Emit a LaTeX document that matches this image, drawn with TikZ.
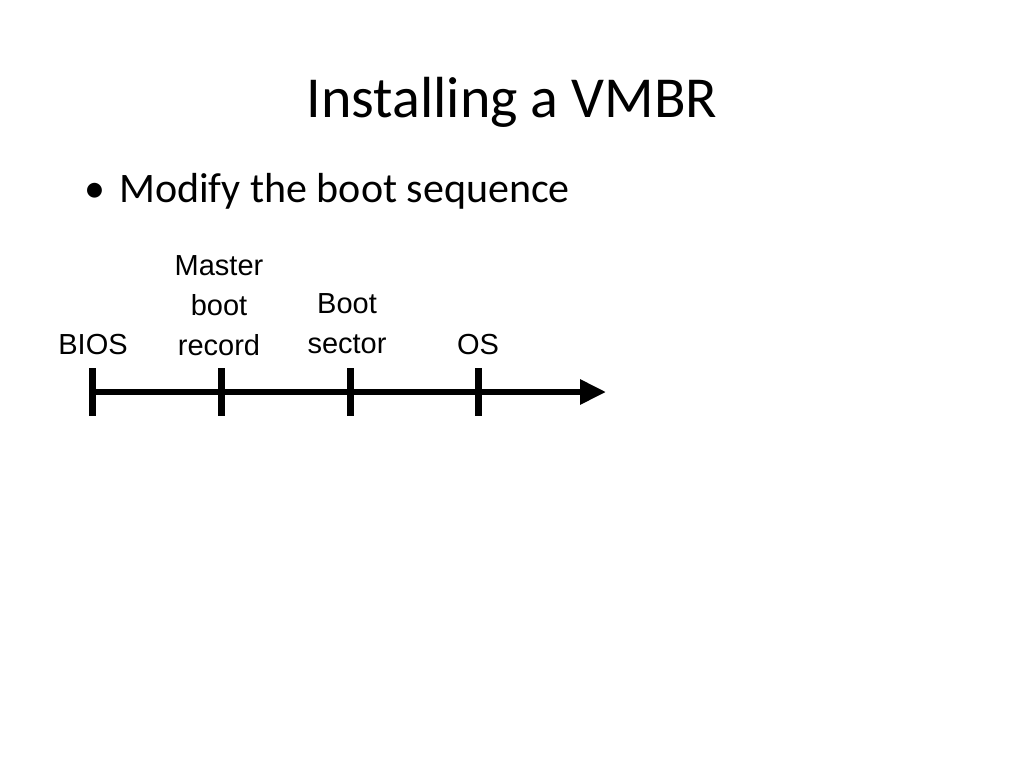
\documentclass[tikz,border=0pt]{standalone}
\usepackage{fontspec}
\setmainfont{Carlito}
\newfontfamily\arialf{Liberation Sans}
\usetikzlibrary{arrows.meta}
\begin{document}
\begin{tikzpicture}[x=1pt,y=-1pt,
  lbl/.style={font=\arialf\fontsize{29}{40}\selectfont,align=center,anchor=base,inner sep=0},
  tick/.style={line width=7pt},
  axis/.style={line width=6pt,-{Triangle[length=26pt,width=24pt]}}]
\useasboundingbox (0,0) rectangle (1024,768);
\node[anchor=base,inner sep=0,font=\fontsize{58}{60}\selectfont] (title) at (512,117) {Installing a VMBR};
\node[anchor=base west,inner sep=0,font=\fontsize{42}{48}\selectfont] (bul) at (84,202) {•\hspace{14pt}Modify the boot sequence};
\coordinate (s) at (92,392);
\coordinate (e) at (606,392);
\draw[axis] (s) -- (e);
\foreach \n/\x in {t1/92,t2/221,t3/350,t4/478}{
  \coordinate (\n a) at (\x,368); \coordinate (\n b) at (\x,416);
  \draw[tick] (\n a) -- (\n b);}
\node[lbl] (bios) at (93,354) {BIOS};
\node[lbl,anchor=south] (mbr) at (219,356) {Master\\boot\\record};
\node[lbl,anchor=south] (bs) at (347,354) {Boot\\sector};
\node[lbl] (os) at (478,354) {OS};
\end{tikzpicture}
\end{document}
